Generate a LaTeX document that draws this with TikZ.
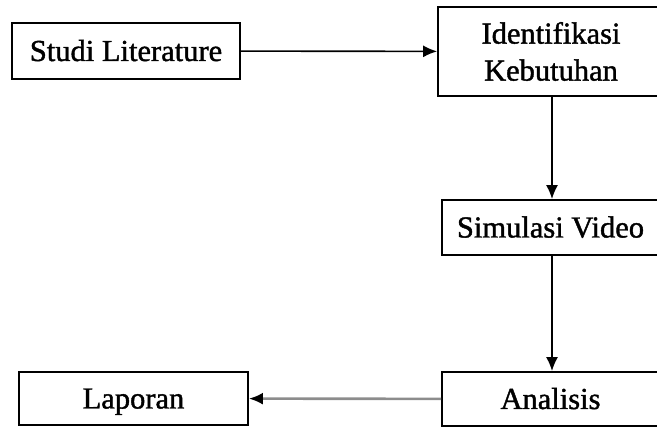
\documentclass[tikz,border=0pt]{standalone}
\usepackage{fontspec}
\setmainfont{Liberation Serif}
\newfontface\diagfont{Liberation Serif}[FakeBold=1.3]
\usetikzlibrary{arrows.meta}

\begin{document}
\begin{tikzpicture}[x=1pt,y=-1pt,>={Latex[length=14pt,width=12pt]},
  box/.style={draw,line width=1.8pt,rectangle,inner sep=0pt,align=center,
    font=\diagfont\fontsize{30.5}{37}\selectfont},
  oneline/.style={text height=24pt,text depth=4pt},
  conn/.style={->,line width=1.6pt},
  greyline/.style={draw=black!45,line width=2.6pt,-{Latex[length=14pt,width=12pt,color=black]}}]

\useasboundingbox (0,0) rectangle (657,427);
\clip (0,0) rectangle (657,427);

\node[box,oneline,minimum width=228pt,minimum height=56pt] (LIT)  at (126,51)      {Studi Literature};
\node[box,minimum width=226pt,minimum height=89pt]         (IDEN) at (551,51.5)    {Identifikasi\\Kebutuhan};
\node[box,oneline,minimum width=217pt,minimum height=55pt] (SIM)  at (550.5,227.5) {Simulasi Video};
\node[box,oneline,minimum width=217pt,minimum height=54pt] (ANA)  at (550.5,399)   {Analisis};
\node[box,oneline,minimum width=229pt,minimum height=53pt] (LAP)  at (133.5,398.5) {Laporan};

\draw[conn] (LIT) -- (IDEN);
\draw[conn] (IDEN.south -| 552,0) -- (SIM.north -| 552,0);
\draw[conn] (SIM.south -| 552,0) -- (ANA.north -| 552,0);
\draw[greyline] (ANA) -- (LAP);
\end{tikzpicture}
\end{document}
